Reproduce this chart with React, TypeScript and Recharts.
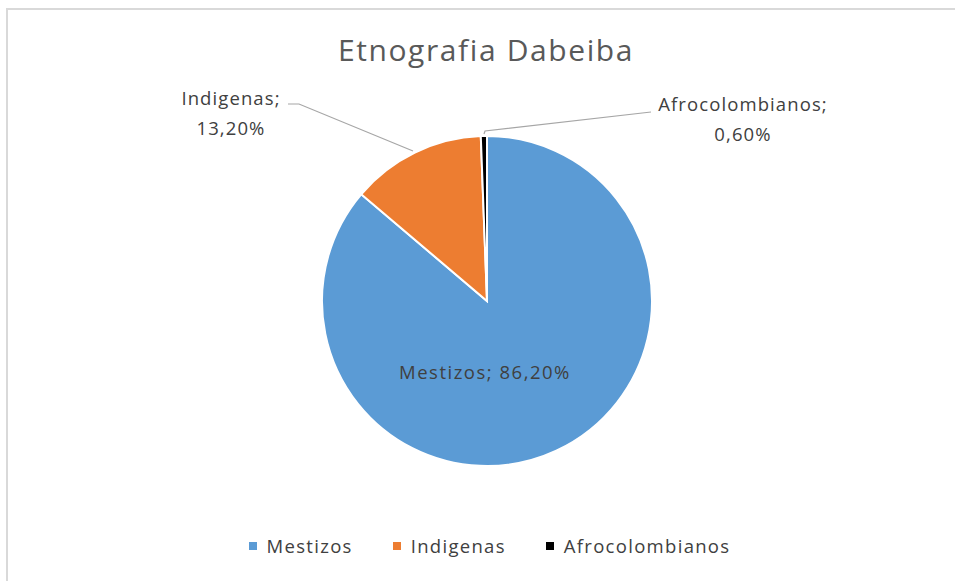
import { PieChart, Pie, Cell, Legend } from "recharts";

const CATEGORIES = ["Mestizos", "Indigenas", "Afrocolombianos"];
const VALUES = [86.2, 13.2, 0.6];
const PCT_LABELS = ["86,20%", "13,20%", "0,60%"];
const COLORS = ["#5B9BD5", "#ED7D31", "#000000"];

const DATA = CATEGORIES.map((name, i) => ({ name, value: VALUES[i], pct: PCT_LABELS[i] }));

const FONT = "'Open Sans', sans-serif";
const TEXT = "#404040";
const LEADER = "#A6A6A6";

function SliceLabel(props: any) {
  const { cx, cy, index } = props;
  const d = DATA[index];
  const txt = { fontFamily: FONT, fontSize: 18.5, fill: TEXT, letterSpacing: 1.1 };
  if (index === 0) {
    return (
      <text x={cx - 2} y={cy + 78} textAnchor="middle" style={{ ...txt, letterSpacing: 1.5 }}>
        {d.name}; {d.pct}
      </text>
    );
  }
  if (index === 1) {
    return (
      <g>
        <polyline
          points={`${cx - 199},${cy - 197} ${cx - 188},${cy - 197} ${cx - 74},${cy - 150}`}
          fill="none"
          stroke={LEADER}
          strokeWidth={1.2}
        />
        <text x={cx - 256} y={cy - 196} textAnchor="middle" style={txt}>
          {d.name};
        </text>
        <text x={cx - 256} y={cy - 166} textAnchor="middle" style={txt}>
          {d.pct}
        </text>
      </g>
    );
  }
  return (
    <g>
      <polyline
        points={`${cx - 3},${cy - 167} ${cx - 2},${cy - 170} ${cx + 164},${cy - 189}`}
        fill="none"
        stroke={LEADER}
        strokeWidth={1.2}
      />
      <text x={cx + 256} y={cy - 190} textAnchor="middle" style={txt}>
        {d.name};
      </text>
      <text x={cx + 256} y={cy - 160} textAnchor="middle" style={txt}>
        {d.pct}
      </text>
    </g>
  );
}

function LegendContent() {
  return (
    <div style={{ display: "flex", justifyContent: "center", gap: 40, fontFamily: FONT, fontSize: 18.5, color: TEXT, letterSpacing: 1.3 }}>
      {DATA.map((d, i) => (
        <div key={d.name} style={{ display: "flex", alignItems: "center" }}>
          <span style={{ width: 8, height: 8, background: COLORS[i], marginRight: 10, display: "inline-block" }} />
          <span>{d.name}</span>
        </div>
      ))}
    </div>
  );
}

export default function App() {
  return (
    <div style={{ position: "fixed", left: 0, top: 0, width: 955, height: 581, background: "#fff", overflow: "hidden" }}>
      <div
        style={{
          position: "absolute",
          left: 6,
          top: 8,
          width: 1100,
          height: 800,
          border: "2px solid #D9D9D9",
          boxSizing: "border-box",
        }}
      />
      <div
        style={{
          position: "absolute",
          left: 0,
          top: 29,
          width: 972,
          textAlign: "center",
          fontFamily: FONT,
          fontSize: 30,
          color: "#595959",
          letterSpacing: 1.6,
        }}
      >
        Etnografia Dabeiba
      </div>
      <div style={{ position: "absolute", left: 0, top: 0 }}>
        <PieChart width={955} height={581} margin={{ top: 0, right: 0, bottom: 0, left: 0 }}>
          <Pie
            data={DATA}
            dataKey="value"
            nameKey="name"
            cx={487}
            cy={301}
            outerRadius={165}
            startAngle={90}
            endAngle={-270}
            stroke="#FFFFFF"
            strokeWidth={2}
            label={SliceLabel}
            labelLine={false}
            isAnimationActive={false}
          >
            {DATA.map((d, i) => (
              <Cell key={d.name} fill={COLORS[i]} />
            ))}
          </Pie>
          <Legend
            verticalAlign="bottom"
            align="center"
            content={LegendContent}
            wrapperStyle={{ left: 12, width: 955, bottom: 23 }}
          />
        </PieChart>
      </div>
    </div>
  );
}
